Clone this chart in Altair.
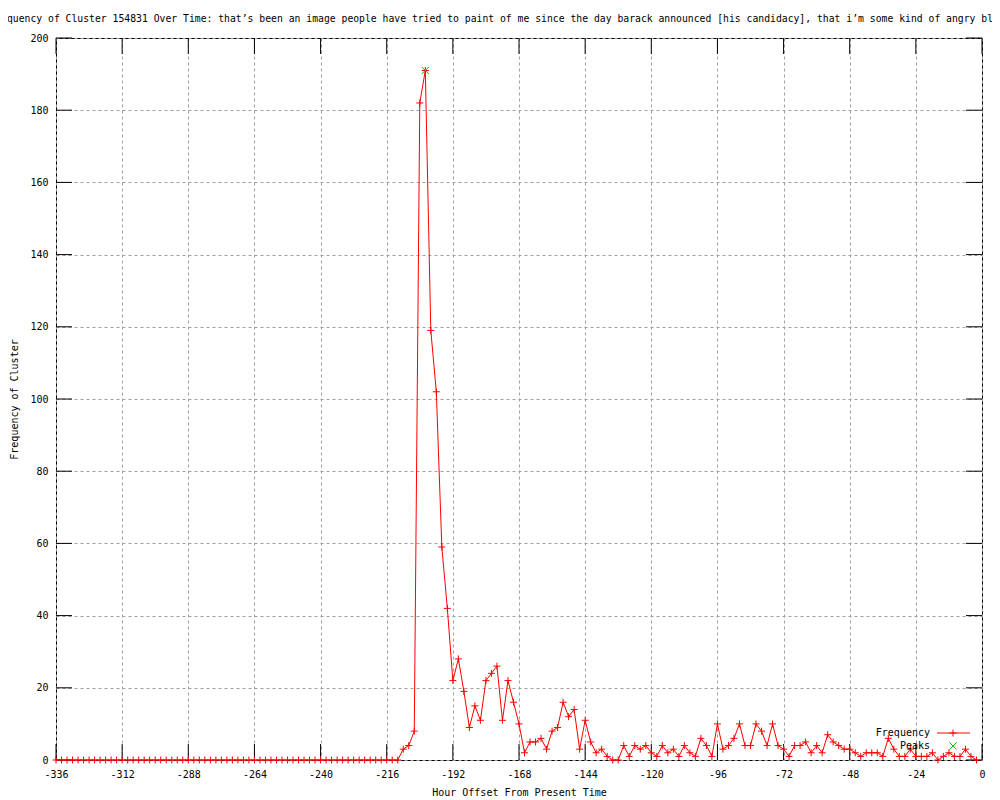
import altair as alt
import pandas as pd

MONO = "DejaVu Sans Mono"

title_text = ("quency of Cluster 154831 Over Time: that\u2019s been an image people have tried to paint "
              "of me since the day barack announced [his candidacy], that i\u2019m some kind of angry bl")

hours = list(range(-336, 0, 2))
freq = [
    0, 0, 0, 0, 0, 0, 0, 0, 0,
    0, 0, 0, 0, 0, 0, 0, 0, 0,
    0, 0, 0, 0, 0, 0, 0, 0, 0,
    0, 0, 0, 0, 0, 0, 0, 0, 0,
    0, 0, 0, 0, 0, 0, 0, 0, 0,
    0, 0, 0, 0, 0, 0, 0, 0, 0,
    0, 0, 0, 0, 0, 0, 0, 0, 0,
    3, 4, 8, 182, 191, 119, 102, 59, 42, 22,
    28, 19, 9, 15, 11, 22, 24, 26, 11, 22,
    16, 10, 2, 5, 5, 6, 3, 8, 9, 16,
    12, 14, 3, 11, 5, 2, 3, 1, 0, 0,
    4, 1, 4, 3, 4, 2, 1, 4, 2, 3,
    1, 4, 2, 1, 6, 4, 1, 10, 3, 4,
    6, 10, 4, 4, 10, 8, 4, 10, 4, 3,
    1, 4, 4, 5, 2, 4, 2, 7, 5, 4,
    3, 3, 2, 1, 2, 2, 2, 1, 6, 3,
    1, 1, 3, 1, 1, 1, 2, 0, 1, 2,
    1, 1, 3, 1, 0,
]
peak_hours = [-202]
peak_freq = [191]

x_ticks = [-336, -312, -288, -264, -240, -216, -192, -168, -144, -120, -96, -72, -48, -24, 0]
y_ticks = [0, 20, 40, 60, 80, 100, 120, 140, 160, 180, 200]

W, H = 926, 722

df = pd.DataFrame({"hour": hours, "freq": freq})
peak_df = pd.DataFrame({"hour": peak_hours, "freq": peak_freq})
xt_df = pd.DataFrame({"hour": x_ticks})
yt_df = pd.DataFrame({"freq": y_ticks})

xscale = alt.Scale(domain=[-336, 0], nice=False, zero=False)
yscale = alt.Scale(domain=[0, 200], nice=False, zero=True)

PLUS = "M-1,0L1,0M0,-1L0,1"
CROSS = "M-1,-1L1,1M-1,1L1,-1"

common_axis = dict(
    domain=False, ticks=False, grid=True, gridColor="#a0a0a0", gridDash=[3, 3], gridWidth=1,
    gridOpacity=1, labelFont=MONO, labelFontSize=10, labelColor="black",
    titleFont=MONO, titleFontSize=10, titleFontWeight="normal", titleColor="black",
    labelExpr="'' + datum.value", labelFlush=False, labelOverlap=False,
)
x_axis = alt.Axis(values=x_ticks, title="Hour Offset From Present Time",
                  labelBaseline="alphabetic", labelPadding=17, titleX=463, titleY=35,
                  titleBaseline="alphabetic", titleAnchor="middle", **common_axis)
y_axis = alt.Axis(values=y_ticks, title="Frequency of Cluster",
                  labelPadding=8, titleX=-39, titleY=361, titleBaseline="alphabetic",
                  titleAngle=-90, titleAnchor="middle", **common_axis)

X = alt.X("hour:Q", scale=xscale, axis=x_axis)
Y = alt.Y("freq:Q", scale=yscale, axis=y_axis)

tick_b = alt.Chart(xt_df).mark_rule(color="black", strokeWidth=1).encode(
    x=X, y=alt.value(H - 16), y2=alt.value(H))
tick_t = alt.Chart(xt_df).mark_rule(color="black", strokeWidth=1).encode(
    x=X, y=alt.value(0), y2=alt.value(16))
tick_l = alt.Chart(yt_df).mark_rule(color="black", strokeWidth=1).encode(
    y=Y, x=alt.value(0), x2=alt.value(16))
tick_r = alt.Chart(yt_df).mark_rule(color="black", strokeWidth=1).encode(
    y=Y, x=alt.value(W - 16), x2=alt.value(W))

line = alt.Chart(df).mark_line(color="#ff0000", strokeWidth=1).encode(x=X, y=Y)
pts = alt.Chart(df).mark_point(shape=PLUS, size=49, filled=False, stroke="#ff0000",
                               strokeWidth=1, opacity=1).encode(x=X, y=Y)
peak = alt.Chart(peak_df).mark_point(shape=CROSS, size=49, filled=False, stroke="#00c000",
                                     strokeWidth=1, opacity=1).encode(x=X, y=Y)

# legend (gnuplot style: label on the left, sample on the right)
leg_df = pd.DataFrame({"label": ["Frequency", "Peaks"], "row": [0, 1]})
leg_text = alt.Chart(leg_df).mark_text(font=MONO, fontSize=10, align="right", baseline="middle",
                                       color="black").encode(
    text="label:N", x=alt.value(874), y=alt.value(695),
).transform_filter("datum.row == 0")
leg_text2 = alt.Chart(leg_df).mark_text(font=MONO, fontSize=10, align="right", baseline="middle",
                                        color="black").encode(
    text="label:N", x=alt.value(874), y=alt.value(708),
).transform_filter("datum.row == 1")
leg_line = alt.Chart(leg_df).mark_rule(color="#ff0000", strokeWidth=1).encode(
    x=alt.value(881), x2=alt.value(914), y=alt.value(695)).transform_filter("datum.row == 0")
leg_plus = alt.Chart(leg_df).mark_point(shape=PLUS, size=49, filled=False, stroke="#ff0000",
                                        strokeWidth=1, opacity=1).encode(
    x=alt.value(897), y=alt.value(695)).transform_filter("datum.row == 0")
leg_x = alt.Chart(leg_df).mark_point(shape=CROSS, size=49, filled=False, stroke="#00c000",
                                     strokeWidth=1, opacity=1).encode(
    x=alt.value(897), y=alt.value(708)).transform_filter("datum.row == 1")

chart = alt.layer(
    tick_b, tick_t, tick_l, tick_r, line, pts, peak,
    leg_text, leg_text2, leg_line, leg_plus, leg_x,
).properties(
    width=W, height=H,
    title=alt.Title(text=title_text, font=MONO, fontSize=9.75, fontWeight="normal",
                    anchor="middle", dx=-19, offset=1, baseline="alphabetic", color="black"),
    autosize=alt.AutoSizeParams(type="none"),
    padding={"left": 48, "top": 30, "right": 10, "bottom": 36},
    background="white",
).configure_view(
    stroke="black", strokeWidth=1
)

chart.save("out.html", embed_options={"renderer": "svg", "actions": False})
